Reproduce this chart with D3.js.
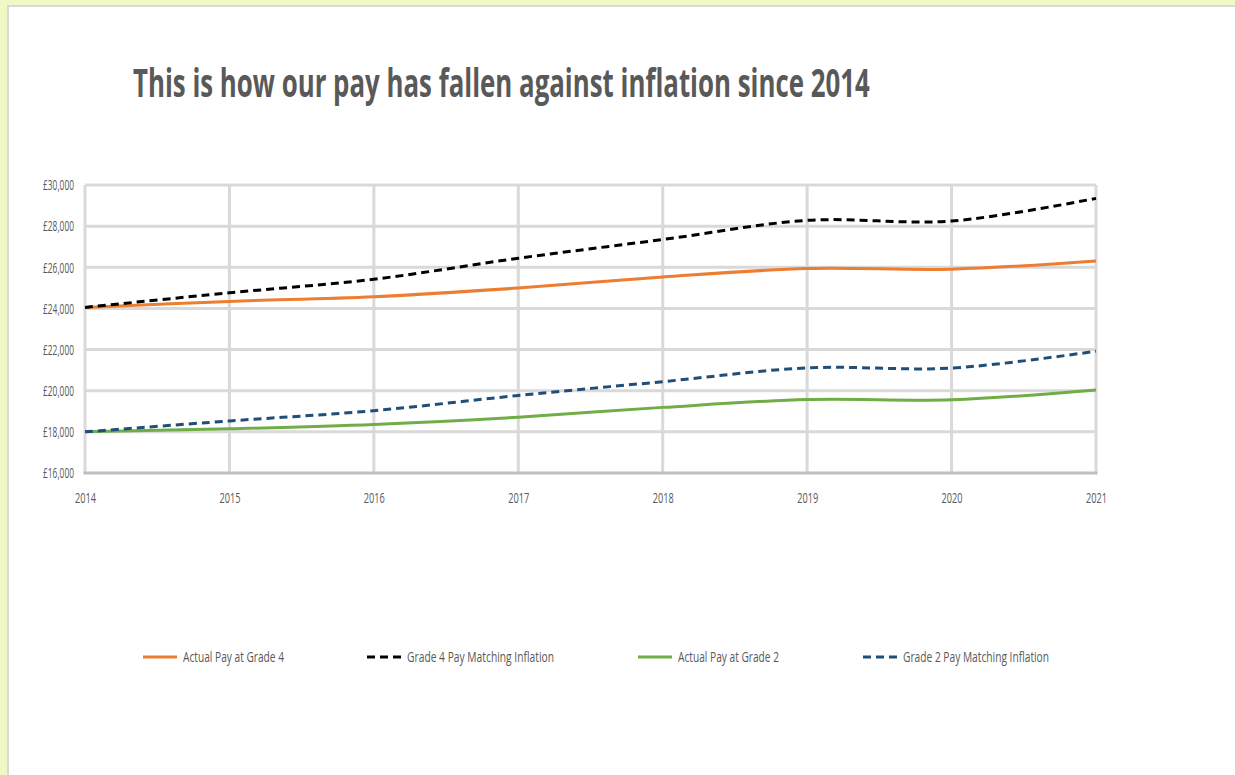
<!DOCTYPE html>
<html>
<head>
<meta charset="utf-8">
<script src="https://cdn.jsdelivr.net/npm/d3@7"></script>
<style>
  body { margin: 0; background: #f1f8c6; }
  svg { display: block; }
</style>
</head>
<body>
<div id="chart"></div>
<script>
// data
var years = [2014, 2015, 2016, 2017, 2018, 2019, 2020, 2021];
var grade4Actual = [24050, 24340, 24570, 24990, 25530, 25940, 25910, 26310];
var grade4Inflation = [24050, 24760, 25420, 26440, 27350, 28280, 28250, 29350];
var grade2Actual = [18000, 18150, 18360, 18710, 19190, 19570, 19560, 20040];
var grade2Inflation = [18000, 18530, 19030, 19770, 20440, 21110, 21100, 21920];
var yTicks = [16000, 18000, 20000, 22000, 24000, 26000, 28000, 30000];
var seriesNames = ["Actual Pay at Grade 4", "Grade 4 Pay Matching Inflation", "Actual Pay at Grade 2", "Grade 2 Pay Matching Inflation"];
var titleText = "This is how our pay has fallen against inflation since 2014";

var width = 1235;
var height = 775;
var textColor = "#595959";
var fontFamily = "'Open Sans', 'Noto Sans', sans-serif";

var series = [
    {name: seriesNames[0], values: grade4Actual, color: "#ed7d31", dash: null},
    {name: seriesNames[1], values: grade4Inflation, color: "#000000", dash: "8,5"},
    {name: seriesNames[2], values: grade2Actual, color: "#70ad47", dash: null},
    {name: seriesNames[3], values: grade2Inflation, color: "#1f4e79", dash: "8,5"}
];

var svg = d3.select("#chart").append("svg")
    .attr("width", width)
    .attr("height", height);

/* yellow frame round a white slide */
svg.append("rect")
    .attr("x", 0).attr("y", 0)
    .attr("width", width).attr("height", height)
    .attr("fill", "#f1f8c6");
svg.append("rect")
    .attr("x", 7).attr("y", 5)
    .attr("width", width).attr("height", height)
    .attr("fill", "#d9d9d9");
svg.append("rect")
    .attr("x", 9).attr("y", 7)
    .attr("width", width).attr("height", height)
    .attr("fill", "#ffffff");

/* title, squeezed sideways like the original */
var title = svg.append("text")
    .attr("x", 0)
    .attr("y", 0)
    .attr("font-family", fontFamily)
    .attr("font-weight", 700)
    .attr("font-size", 39)
    .attr("fill", textColor)
    .text(titleText);
var titleScale = 737 / title.node().getComputedTextLength();
title.attr("transform", "translate(133,97) scale(" + titleScale + ",1)");

var x = d3.scaleLinear()
    .domain([years[0], years[years.length - 1]])
    .range([85, 1096]);

var y = d3.scaleLinear()
    .domain([16000, 30000])
    .range([473, 185]);

var plot = svg.append("g");

/* horizontal grid lines */
plot.selectAll(".hgrid")
    .data(yTicks.slice(1))
    .enter().append("line")
    .attr("class", "hgrid")
    .attr("x1", x.range()[0])
    .attr("x2", x.range()[1])
    .attr("y1", function (d) { return y(d); })
    .attr("y2", function (d) { return y(d); })
    .attr("stroke", "#d9d9d9")
    .attr("stroke-width", 3);

/* vertical grid lines, one per year */
plot.selectAll(".vgrid")
    .data(years)
    .enter().append("line")
    .attr("class", "vgrid")
    .attr("x1", function (d) { return x(d); })
    .attr("x2", function (d) { return x(d); })
    .attr("y1", y.range()[1])
    .attr("y2", y.range()[0])
    .attr("stroke", "#d9d9d9")
    .attr("stroke-width", 3);

/* bottom axis line */
plot.append("line")
    .attr("x1", x.range()[0] - 1.5)
    .attr("x2", x.range()[1] + 1.5)
    .attr("y1", y(16000))
    .attr("y2", y(16000))
    .attr("stroke", "#bfbfbf")
    .attr("stroke-width", 3);

/* axis labels */
var yAxis = d3.axisLeft(y)
    .tickValues(yTicks)
    .tickSize(0)
    .tickPadding(11)
    .tickFormat(function (d) { return "£" + d3.format(",")(d); });

var gy = svg.append("g")
    .attr("transform", "translate(" + x.range()[0] + ",0)")
    .call(yAxis);
gy.select(".domain").remove();
gy.selectAll("text")
    .attr("font-family", fontFamily)
    .attr("font-size", 15)
    .attr("fill", textColor)
    .attr("textLength", 31)
    .attr("lengthAdjust", "spacingAndGlyphs");

var xAxis = d3.axisBottom(x)
    .tickValues(years)
    .tickSize(0)
    .tickPadding(19)
    .tickFormat(d3.format("d"));

var gx = svg.append("g")
    .attr("transform", "translate(0," + y.range()[0] + ")")
    .call(xAxis);
gx.select(".domain").remove();
gx.selectAll("text")
    .attr("font-family", fontFamily)
    .attr("font-size", 15)
    .attr("fill", textColor)
    .attr("textLength", 21)
    .attr("lengthAdjust", "spacingAndGlyphs");

/* smoothed lines like excel */
var line = d3.line()
    .x(function (d, i) { return x(years[i]); })
    .y(function (d) { return y(d); })
    .curve(d3.curveCardinal.tension(0));

plot.selectAll(".series")
    .data(series)
    .enter().append("path")
    .attr("class", "series")
    .attr("d", function (d) { return line(d.values); })
    .attr("fill", "none")
    .attr("stroke", function (d) { return d.color; })
    .attr("stroke-width", 3)
    .attr("stroke-dasharray", function (d) { return d.dash; });

/* legend */
var legendX = [143, 367, 638, 863];
var legendTextWidth = [101, 147, 101, 146];
var legendY = 657;

var legend = svg.selectAll(".legend")
    .data(series)
    .enter().append("g")
    .attr("class", "legend")
    .attr("transform", function (d, i) { return "translate(" + legendX[i] + "," + legendY + ")"; });

legend.append("line")
    .attr("x1", 0)
    .attr("x2", 34)
    .attr("stroke", function (d) { return d.color; })
    .attr("stroke-width", 3)
    .attr("stroke-dasharray", function (d) { return d.dash ? "8,5" : null; });

legend.append("text")
    .attr("x", 40)
    .attr("dy", "0.35em")
    .attr("font-family", fontFamily)
    .attr("font-size", 15)
    .attr("fill", textColor)
    .attr("textLength", function (d, i) { return legendTextWidth[i]; })
    .attr("lengthAdjust", "spacingAndGlyphs")
    .text(function (d) { return d.name; });
</script>
</body>
</html>
